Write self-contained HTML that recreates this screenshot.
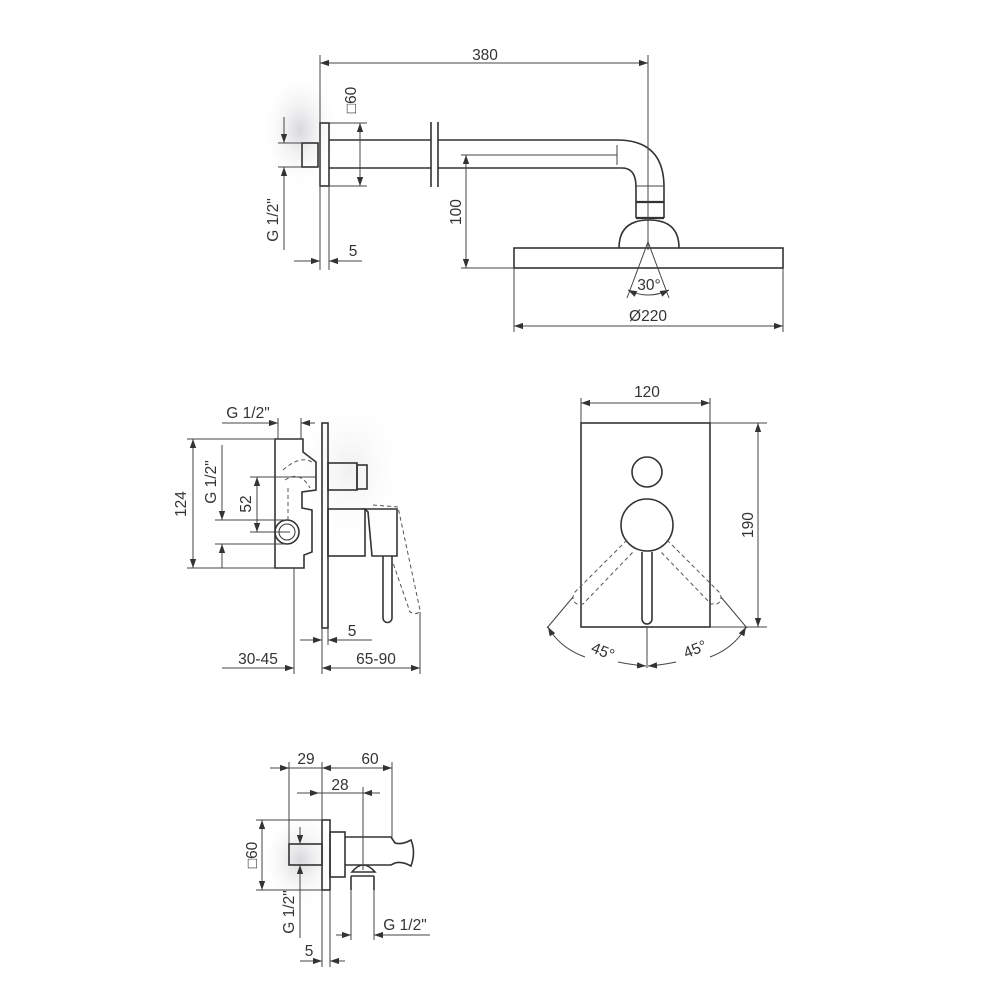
<!DOCTYPE html>
<html><head><meta charset="utf-8"><style>
html,body{margin:0;padding:0;background:#fff}
svg{display:block}
text{font-family:"Liberation Sans",sans-serif;font-size:15.5px;fill:#333}
</style></head><body>
<svg width="1000" height="1000" viewBox="0 0 1000 1000" xmlns="http://www.w3.org/2000/svg">
<defs>
<marker id="a" viewBox="0 0 10 10" refX="10" refY="5" markerWidth="9" markerHeight="9" orient="auto-start-reverse" markerUnits="userSpaceOnUse"><path d="M0,1.5 L10,5 L0,8.5z" fill="#333"/></marker>
<radialGradient id="sh" cx="0.5" cy="0.5" r="0.5"><stop offset="0" stop-color="#d8d8dc"/><stop offset="1" stop-color="#fff" stop-opacity="0"/></radialGradient>
</defs>
<ellipse cx="300" cy="130" rx="40" ry="60" fill="url(#sh)"/>
<ellipse cx="300" cy="860" rx="40" ry="50" fill="url(#sh)"/>
<ellipse cx="350" cy="470" rx="60" ry="80" fill="url(#sh)" opacity="0.4"/>

<g fill="none" stroke="#333" stroke-width="1.6">
<rect x="320" y="123" width="9" height="63"/>
<rect x="302" y="143" width="16" height="24"/>
<path d="M329 140 H431 M329 168 H431"/>
<path d="M431 122 V187 M438 122 V187"/>
<path d="M438 140 H617 Q664 140 664 187 V218 M438 168 H622 Q636 168 636 187 V218"/>
<path d="M636 202 H664 M636 218 H664" stroke-width="2.2"/>
<path d="M619 248 Q619 220 649 220 Q679 220 679 248"/>
<rect x="514" y="248" width="269" height="20"/>
</g>
<g fill="none" stroke="#444" stroke-width="1">
<path d="M320 55 V270 M648 55 V250"/>
<path d="M320 63 H648" marker-start="url(#a)" marker-end="url(#a)"/>
<path d="M329 123 H367 M329 186 H367"/>
<path d="M360 123 V186" marker-start="url(#a)" marker-end="url(#a)"/>
<path d="M278 143 H302 M278 167 H302"/>
<path d="M284 117 V143" marker-end="url(#a)"/>
<path d="M284 250 V167" marker-end="url(#a)"/>
<path d="M294 261 H320" marker-end="url(#a)"/>
<path d="M362 261 H329" marker-end="url(#a)"/>
<path d="M329 186 V270"/>
<path d="M461 155 H617 M617 145 V165 M461 268 H514"/>
<path d="M466 155 V268" marker-start="url(#a)" marker-end="url(#a)"/>
<path d="M636 186 H664"/>
<path d="M648 225 V240" stroke-dasharray="5 3"/>
<path d="M648 242 L627 298 M648 242 L669 298"/>
<path d="M628 290 Q648 300 669 290" marker-start="url(#a)" marker-end="url(#a)"/>
<path d="M514 268 V332 M783 268 V332"/>
<path d="M514 326 H783" marker-start="url(#a)" marker-end="url(#a)"/>
</g>
<text x="485" y="60" text-anchor="middle">380</text>
<text transform="translate(356,100) rotate(-90)" text-anchor="middle">□60</text>
<text transform="translate(278,220) rotate(-90)" text-anchor="middle">G 1/2"</text>
<text x="353" y="256" text-anchor="middle">5</text>
<text transform="translate(461,212) rotate(-90)" text-anchor="middle">100</text>
<text x="649" y="290" text-anchor="middle">30°</text>
<text x="648" y="321" text-anchor="middle">Ø220</text>

<g fill="none" stroke="#333" stroke-width="1.6">
<rect x="322" y="423" width="6" height="205"/>
<path d="M275 439 H303 V452 L316 462 V490 L302 492 V508 L312 510 V552 L304 555 V568 H275 Z"/>
<circle cx="287" cy="532" r="12"/>
<circle cx="287" cy="532" r="8" stroke-width="1"/>
<rect x="328" y="463" width="29" height="27"/>
<rect x="357" y="465" width="10" height="24"/>
<rect x="328" y="509" width="37" height="47"/>
<path d="M365 509 H397 V556 H372 L368 512 Z"/>
<path d="M383 556 V618 A4.5 4.5 0 0 0 392 618 V556"/>
</g>
<g fill="none" stroke="#555" stroke-width="1" stroke-dasharray="4 3">
<path d="M283 470 Q300 455 312 462 M285 480 Q300 470 310 488 M288 488 V520"/>
<path d="M373 505 L398 507 L420 610 Q418 616 410 612 L392 560"/>
</g>
<g fill="none" stroke="#444" stroke-width="1">
<path d="M278 418 V439 M301 418 V439"/>
<path d="M222 423 H278" marker-end="url(#a)"/>
<path d="M315 423 H301" marker-end="url(#a)"/>
<path d="M187 439 H275 M187 568 H275"/>
<path d="M193 439 V568" marker-start="url(#a)" marker-end="url(#a)"/>
<path d="M215 520 H285 M215 544 H285"/>
<path d="M222 445 V520" marker-end="url(#a)"/>
<path d="M222 568 V544" marker-end="url(#a)"/>
<path d="M250 477 H316 M250 532 H290"/>
<path d="M257 477 V532" marker-start="url(#a)" marker-end="url(#a)"/>
<path d="M300 640 H322" marker-end="url(#a)"/>
<path d="M372 640 H328" marker-end="url(#a)"/>
<path d="M294 568 V674 M322 628 V674 M328 628 V645 M420 612 V674"/>
<path d="M222 668 H294" marker-end="url(#a)"/>
<path d="M322 668 H420" marker-start="url(#a)" marker-end="url(#a)"/>
</g>
<text x="248" y="418" text-anchor="middle">G 1/2"</text>
<text transform="translate(186,504) rotate(-90)" text-anchor="middle">124</text>
<text transform="translate(216,482) rotate(-90)" text-anchor="middle">G 1/2"</text>
<text transform="translate(251,504) rotate(-90)" text-anchor="middle">52</text>
<text x="352" y="636" text-anchor="middle">5</text>
<text x="258" y="664" text-anchor="middle">30-45</text>
<text x="376" y="664" text-anchor="middle">65-90</text>

<g fill="none" stroke="#333" stroke-width="1.6">
<rect x="581" y="423" width="129" height="204"/>
<circle cx="647" cy="472" r="15"/>
<circle cx="647" cy="525" r="26"/>
<path d="M642 552 V619 A5 5 0 0 0 652 619 V552"/>
</g>
<g fill="none" stroke="#555" stroke-width="1" stroke-dasharray="4 3">
<path d="M627 540 L575 592 Q570 600 577 604 L583 604 L633 552"/>
<path d="M667 540 L719 592 Q724 600 717 604 L711 604 L661 552"/>
</g>
<g fill="none" stroke="#444" stroke-width="1">
<path d="M573 597 L547 628 M721 597 L747 628"/>
<path d="M647 627 V668"/>
<path d="M581 398 V423 M710 398 V423"/>
<path d="M581 403 H710" marker-start="url(#a)" marker-end="url(#a)"/>
<path d="M710 423 H767 M710 627 H767"/>
<path d="M758 423 V627" marker-start="url(#a)" marker-end="url(#a)"/>
<path d="M548 627 Q560 648 585 657" marker-start="url(#a)"/>
<path d="M618 662 Q632 665 646 666" marker-end="url(#a)"/>
<path d="M746 627 Q734 648 710 657" marker-start="url(#a)"/>
<path d="M676 662 Q662 665 648 666" marker-end="url(#a)"/>
</g>
<text x="647" y="397" text-anchor="middle">120</text>
<text transform="translate(753,525) rotate(-90)" text-anchor="middle">190</text>
<text transform="translate(601,656) rotate(22)" text-anchor="middle">45°</text>
<text transform="translate(697,654) rotate(-22)" text-anchor="middle">45°</text>

<g fill="none" stroke="#333" stroke-width="1.6">
<rect x="322" y="820" width="8" height="70"/>
<rect x="289" y="844" width="33" height="21"/>
<rect x="330" y="832" width="15" height="45"/>
<path d="M345 837 H391 L395 843 Q402 845 411 840 Q416 852 411 866 Q402 861 395 863 L391 865 H345"/>
<path d="M352 872 Q363 858 375 872 Z"/>
<path d="M351 876 H374 M351 876 V890 M374 876 V890"/>
</g>
<g fill="none" stroke="#444" stroke-width="1">
<path d="M289 762 V844 M322 762 V820 M392 762 V838"/>
<path d="M270 768 H289" marker-end="url(#a)"/>
<path d="M289 768 H322"/>
<path d="M322 768 H392" marker-start="url(#a)" marker-end="url(#a)"/>
<path d="M363 787 V870"/>
<path d="M297 793 H319" marker-end="url(#a)"/>
<path d="M319 793 H363"/>
<path d="M380 793 H363" marker-end="url(#a)"/>
<path d="M256 820 H322 M256 890 H322"/>
<path d="M262 820 V890" marker-start="url(#a)" marker-end="url(#a)"/>
<path d="M300 827 V844" marker-end="url(#a)"/>
<path d="M300 938 V865" marker-end="url(#a)"/>
<path d="M351 890 V940 M374 890 V940"/>
<path d="M336 935 H351" marker-end="url(#a)"/>
<path d="M430 935 H374" marker-end="url(#a)"/>
<path d="M322 890 V967 M330 890 V967"/>
<path d="M300 961 H322" marker-end="url(#a)"/>
<path d="M345 961 H330" marker-end="url(#a)"/>
</g>
<text x="306" y="764" text-anchor="middle">29</text>
<text x="370" y="764" text-anchor="middle">60</text>
<text x="340" y="790" text-anchor="middle">28</text>
<text transform="translate(257,855) rotate(-90)" text-anchor="middle">□60</text>
<text transform="translate(294,912) rotate(-90)" text-anchor="middle">G 1/2"</text>
<text x="405" y="930" text-anchor="middle">G 1/2"</text>
<text x="309" y="956" text-anchor="middle">5</text>
</svg>
</body></html>
